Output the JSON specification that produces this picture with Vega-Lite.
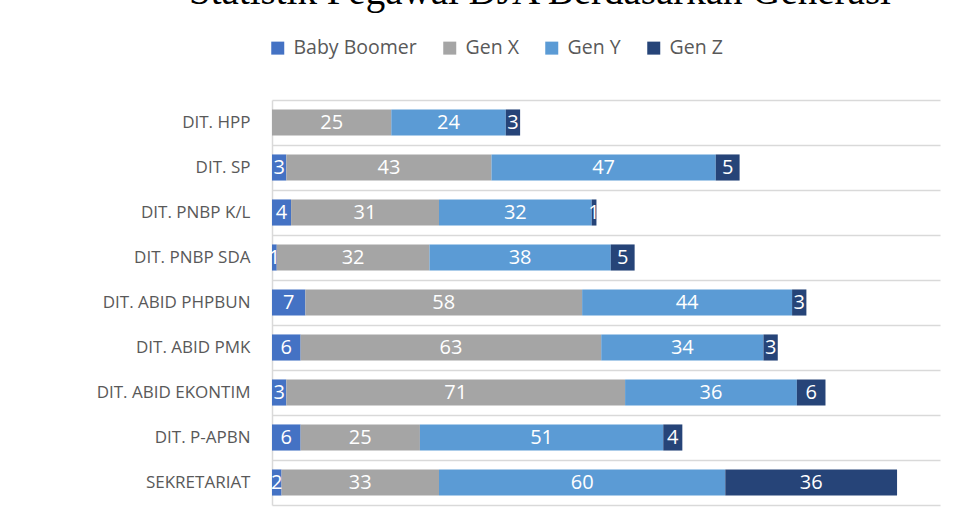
{
  "$schema": "https://vega.github.io/schema/vega-lite/v6.json",
  "width": 668,
  "height": 405,
  "autosize": {"type": "none"},
  "padding": {"left": 272, "top": 100, "right": 16, "bottom": 21},
  "background": "white",
  "title": {
    "text": "Statistik Pegawai DJA Berdasarkan Generasi",
    "font": "Liberation Serif",
    "fontSize": 39,
    "fontWeight": "normal",
    "color": "#000000",
    "anchor": "middle",
    "frame": "group",
    "dx": -66,
    "dy": 5,
    "offset": 0,
    "baseline": "alphabetic"
  },
  "data": {
    "values": [
      {"unit": "DIT. HPP", "series": "Gen X", "count": 25},
      {"unit": "DIT. HPP", "series": "Gen Y", "count": 24},
      {"unit": "DIT. HPP", "series": "Gen Z", "count": 3},
      {"unit": "DIT. SP", "series": "Baby Boomer", "count": 3},
      {"unit": "DIT. SP", "series": "Gen X", "count": 43},
      {"unit": "DIT. SP", "series": "Gen Y", "count": 47},
      {"unit": "DIT. SP", "series": "Gen Z", "count": 5},
      {"unit": "DIT. PNBP K/L", "series": "Baby Boomer", "count": 4},
      {"unit": "DIT. PNBP K/L", "series": "Gen X", "count": 31},
      {"unit": "DIT. PNBP K/L", "series": "Gen Y", "count": 32},
      {"unit": "DIT. PNBP K/L", "series": "Gen Z", "count": 1},
      {"unit": "DIT. PNBP SDA", "series": "Baby Boomer", "count": 1},
      {"unit": "DIT. PNBP SDA", "series": "Gen X", "count": 32},
      {"unit": "DIT. PNBP SDA", "series": "Gen Y", "count": 38},
      {"unit": "DIT. PNBP SDA", "series": "Gen Z", "count": 5},
      {"unit": "DIT. ABID PHPBUN", "series": "Baby Boomer", "count": 7},
      {"unit": "DIT. ABID PHPBUN", "series": "Gen X", "count": 58},
      {"unit": "DIT. ABID PHPBUN", "series": "Gen Y", "count": 44},
      {"unit": "DIT. ABID PHPBUN", "series": "Gen Z", "count": 3},
      {"unit": "DIT. ABID PMK", "series": "Baby Boomer", "count": 6},
      {"unit": "DIT. ABID PMK", "series": "Gen X", "count": 63},
      {"unit": "DIT. ABID PMK", "series": "Gen Y", "count": 34},
      {"unit": "DIT. ABID PMK", "series": "Gen Z", "count": 3},
      {"unit": "DIT. ABID EKONTIM", "series": "Baby Boomer", "count": 3},
      {"unit": "DIT. ABID EKONTIM", "series": "Gen X", "count": 71},
      {"unit": "DIT. ABID EKONTIM", "series": "Gen Y", "count": 36},
      {"unit": "DIT. ABID EKONTIM", "series": "Gen Z", "count": 6},
      {"unit": "DIT. P-APBN", "series": "Baby Boomer", "count": 6},
      {"unit": "DIT. P-APBN", "series": "Gen X", "count": 25},
      {"unit": "DIT. P-APBN", "series": "Gen Y", "count": 51},
      {"unit": "DIT. P-APBN", "series": "Gen Z", "count": 4},
      {"unit": "SEKRETARIAT", "series": "Baby Boomer", "count": 2},
      {"unit": "SEKRETARIAT", "series": "Gen X", "count": 33},
      {"unit": "SEKRETARIAT", "series": "Gen Y", "count": 60},
      {"unit": "SEKRETARIAT", "series": "Gen Z", "count": 36}
    ]
  },
  "encoding": {
    "y": {
      "field": "unit",
      "type": "nominal",
      "sort": ["DIT. HPP", "DIT. SP", "DIT. PNBP K/L", "DIT. PNBP SDA", "DIT. ABID PHPBUN", "DIT. ABID PMK", "DIT. ABID EKONTIM", "DIT. P-APBN", "SEKRETARIAT"],
      "scale": {"paddingInner": 0, "paddingOuter": 0},
      "axis": {
        "title": null,
        "tickBand": "extent",
        "grid": true,
        "gridColor": "#D9D9D9",
        "gridWidth": 1.5,
        "ticks": false,
        "domain": true,
        "domainColor": "#D9D9D9",
        "domainWidth": 1.5,
        "labelFont": "Open Sans",
        "labelFontSize": 17,
        "labelColor": "#595959",
        "labelPadding": 22
      }
    },
    "x": {
      "field": "count",
      "type": "quantitative",
      "stack": "zero",
      "scale": {"domain": [0, 140], "nice": false},
      "axis": null
    }
  },
  "layer": [
    {
      "mark": {"type": "bar", "height": {"band": 0.58}},
      "encoding": {
        "color": {
          "field": "series",
          "type": "nominal",
          "scale": {
            "domain": ["Baby Boomer", "Gen X", "Gen Y", "Gen Z"],
            "range": ["#4472C4", "#A5A5A5", "#5B9BD5", "#264478"]
          },
          "legend": {
            "orient": "none",
            "legendX": -4,
            "legendY": -62,
            "direction": "horizontal",
            "title": null,
            "symbolType": "square",
            "symbolSize": 169,
            "symbolStrokeWidth": 0,
            "labelFont": "Open Sans",
            "labelFontSize": 19.5,
            "labelColor": "#595959",
            "columnPadding": 23,
            "labelOffset": 6
          }
        },
        "order": {"field": "series", "sort": "ascending"}
      }
    },
    {
      "mark": {"type": "text", "color": "white", "font": "Open Sans", "fontSize": 20, "baseline": "middle", "align": "center"},
      "encoding": {
        "x": {"field": "count", "type": "quantitative", "stack": "zero", "bandPosition": 0.5},
        "detail": {"field": "series"},
        "text": {"field": "count", "type": "quantitative"},
        "order": {"field": "series", "sort": "ascending"}
      }
    }
  ],
  "config": {"view": {"stroke": null}}
}
